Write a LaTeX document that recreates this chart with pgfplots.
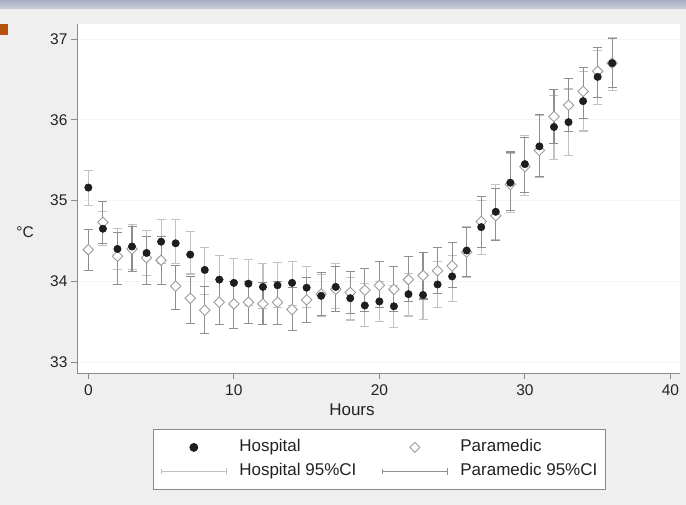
\documentclass[border=0pt]{standalone}
\usepackage{pgfplots}
\pgfplotsset{compat=1.18}
\usepackage{pgfplotstable}
\usepackage{fontspec}
\setmainfont{Liberation Sans}
\definecolor{bgc}{HTML}{EFEFEF}
\definecolor{topA}{HTML}{A9AEC4}
\definecolor{topB}{HTML}{C9CCD8}
\definecolor{orangec}{HTML}{B4520E}
\definecolor{axisgray}{HTML}{8A8A8A}
\definecolor{hci}{HTML}{C2C2C2}
\definecolor{pci}{HTML}{8E8E8E}
\definecolor{dotc}{HTML}{1E1E1E}
\definecolor{diac}{HTML}{9C9C9C}
\definecolor{txt}{HTML}{222222}

\pgfplotstableread{
t h hlo hhi p plo phi
0 35.16 34.94 35.37 34.39 34.13 34.64
1 34.65 34.44 34.86 34.73 34.47 34.99
2 34.40 34.15 34.65 34.31 33.96 34.60
3 34.43 34.15 34.70 34.40 34.12 34.68
4 34.35 34.07 34.63 34.29 33.96 34.55
5 34.49 34.22 34.76 34.26 33.96 34.55
6 34.47 34.22 34.76 33.94 33.65 34.19
7 34.33 34.09 34.62 33.79 33.48 34.06
8 34.14 33.84 34.42 33.64 33.35 33.94
9 34.02 33.76 34.32 33.74 33.46 34.02
10 33.98 33.70 34.28 33.72 33.42 34.00
11 33.97 33.70 34.27 33.74 33.48 34.00
12 33.93 33.66 34.22 33.72 33.46 33.98
13 33.95 33.68 34.23 33.74 33.46 34.00
14 33.98 33.70 34.25 33.65 33.39 33.92
15 33.92 33.67 34.18 33.77 33.49 34.05
16 33.82 33.56 34.08 33.84 33.58 34.11
17 33.93 33.66 34.22 33.90 33.63 34.18
18 33.79 33.52 34.05 33.86 33.60 34.12
19 33.70 33.44 33.97 33.89 33.62 34.16
20 33.75 33.50 34.00 33.95 33.68 34.24
21 33.69 33.43 33.95 33.90 33.63 34.18
22 33.84 33.57 34.10 34.02 33.75 34.31
23 33.83 33.53 34.10 34.07 33.78 34.36
24 33.96 33.67 34.24 34.13 33.85 34.42
25 34.06 33.75 34.32 34.19 33.92 34.48
26 34.38 34.05 34.68 34.36 34.06 34.66
27 34.67 34.33 35.00 34.74 34.42 35.05
28 34.86 34.51 35.20 34.81 34.50 35.15
29 35.22 34.85 35.58 35.20 34.88 35.60
30 35.45 35.06 35.81 35.42 35.10 35.78
31 35.67 35.28 36.05 35.62 35.30 36.07
32 35.91 35.51 36.30 36.04 35.70 36.37
33 35.97 35.56 36.38 36.18 35.85 36.51
34 36.23 35.86 36.60 36.35 36.02 36.65
35 36.53 36.19 36.86 36.60 36.28 36.89
36 36.70 36.36 37.02 36.70 36.40 37.00
}\data

\begin{document}
\begin{tikzpicture}[x=1pt,y=1pt]
\useasboundingbox (0,0) rectangle (686,505);
\fill[bgc] (0,0) rectangle (686,505);
\shade[top color=topA, bottom color=topB] (0,496) rectangle (686,505);
\fill[orangec] (0,470) rectangle (8,481);
\begin{axis}[
  at={(77pt,132pt)}, anchor=south west,
  width=603pt, height=349pt, scale only axis,
  xmin=-0.78, xmax=40.66, ymin=32.864, ymax=37.185,
  axis x line*=bottom, axis y line*=left,
  axis line style={-, draw=axisgray, line width=0.8pt},
  axis background/.style={fill=white},
  xtick={0,10,20,30,40}, ytick={33,34,35,36,37},
  tick align=outside, major tick length=6pt,
  tick style={axisgray, line width=0.8pt},
  /pgf/number format/assume math mode=true,
  tick label style={font=\fontsize{15.5}{18}\selectfont, text=txt},
  xticklabel style={yshift=-2pt},
  ymajorgrids, grid style={black!4, line width=0.6pt},
  xlabel={Hours},
  xlabel style={at={(axis description cs:0.456,-0.106)}, anchor=center, font=\fontsize{17}{20}\selectfont, text=txt},
  ylabel={°C},
  ylabel style={at={(axis description cs:-0.0862,0.404)}, anchor=center, rotate=-90, font=\fontsize{15.5}{18}\selectfont, text=txt},
  legend columns=2,
  legend cell align=left,
  legend style={at={(0.126,-0.1605)}, anchor=north west,
    draw=axisgray, fill=white, line width=0.8pt,
    inner xsep=8pt, inner ysep=6pt,
    font=\fontsize{17}{20}\selectfont, text=txt,
    nodes={inner xsep=0pt, inner ysep=4pt, text height=12.5pt, text depth=3.5pt},
    /tikz/every odd column/.append style={column sep=12pt},
    /tikz/every even column/.append style={column sep=26pt}},
]
\addlegendimage{legend image code/.code={\path[draw=none,fill=none] (0pt,-5pt) rectangle (65pt,5pt); \fill[dotc] (32pt,0pt) circle (4pt);}}
\addlegendentry{Hospital}
\addlegendimage{legend image code/.code={\path[draw=none,fill=none] (0pt,-5pt) rectangle (65pt,5pt); \draw[diac, fill=white, line width=0.8pt] (32pt,5pt) -- (37pt,0pt) -- (32pt,-5pt) -- (27pt,0pt) -- cycle;}}
\addlegendentry{Paramedic}
\addlegendimage{legend image code/.code={\path[draw=none,fill=none] (0pt,-5pt) rectangle (65pt,5pt); \draw[hci, line width=0.9pt] (0pt,0pt) -- (65pt,0pt); \draw[hci, line width=0.9pt] (0pt,-2.5pt) -- (0pt,2.5pt); \draw[hci, line width=0.9pt] (65pt,-3.5pt) -- (65pt,3.5pt);}}
\addlegendentry{Hospital 95\%CI}
\addlegendimage{legend image code/.code={\path[draw=none,fill=none] (0pt,-5pt) rectangle (65pt,5pt); \draw[pci, line width=0.9pt] (0pt,0pt) -- (65pt,0pt); \draw[pci, line width=0.9pt] (0pt,-2.5pt) -- (0pt,2.5pt); \draw[pci, line width=0.9pt] (65pt,-3.5pt) -- (65pt,3.5pt);}}
\addlegendentry{Paramedic 95\%CI}

\addplot[forget plot, draw=none, mark=none,
  error bars/.cd, y dir=both, y explicit,
  error bar style={hci, line width=1.1pt},
  error mark options={rotate=90, hci, mark size=4.5pt, line width=1.1pt}]
  table[x=t, y=h, y error plus expr=\thisrow{hhi}-\thisrow{h}, y error minus expr=\thisrow{h}-\thisrow{hlo}] {\data};
\addplot[forget plot, draw=none, mark=none,
  error bars/.cd, y dir=both, y explicit,
  error bar style={pci, line width=1.1pt},
  error mark options={rotate=90, pci, mark size=4.5pt, line width=1.1pt}]
  table[x=t, y=p, y error plus expr=\thisrow{phi}-\thisrow{p}, y error minus expr=\thisrow{p}-\thisrow{plo}] {\data};
\addplot[forget plot, only marks, mark=square*, mark size=3.7pt,
  mark options={rotate=45, draw=diac, fill=white, line width=0.9pt}]
  table[x=t, y=p] {\data};
\addplot[forget plot, only marks, mark=*, mark size=3.7pt,
  mark options={draw=black!90, fill=dotc, line width=0.5pt}]
  table[x=t, y=h] {\data};
\end{axis}
\end{tikzpicture}
\end{document}
